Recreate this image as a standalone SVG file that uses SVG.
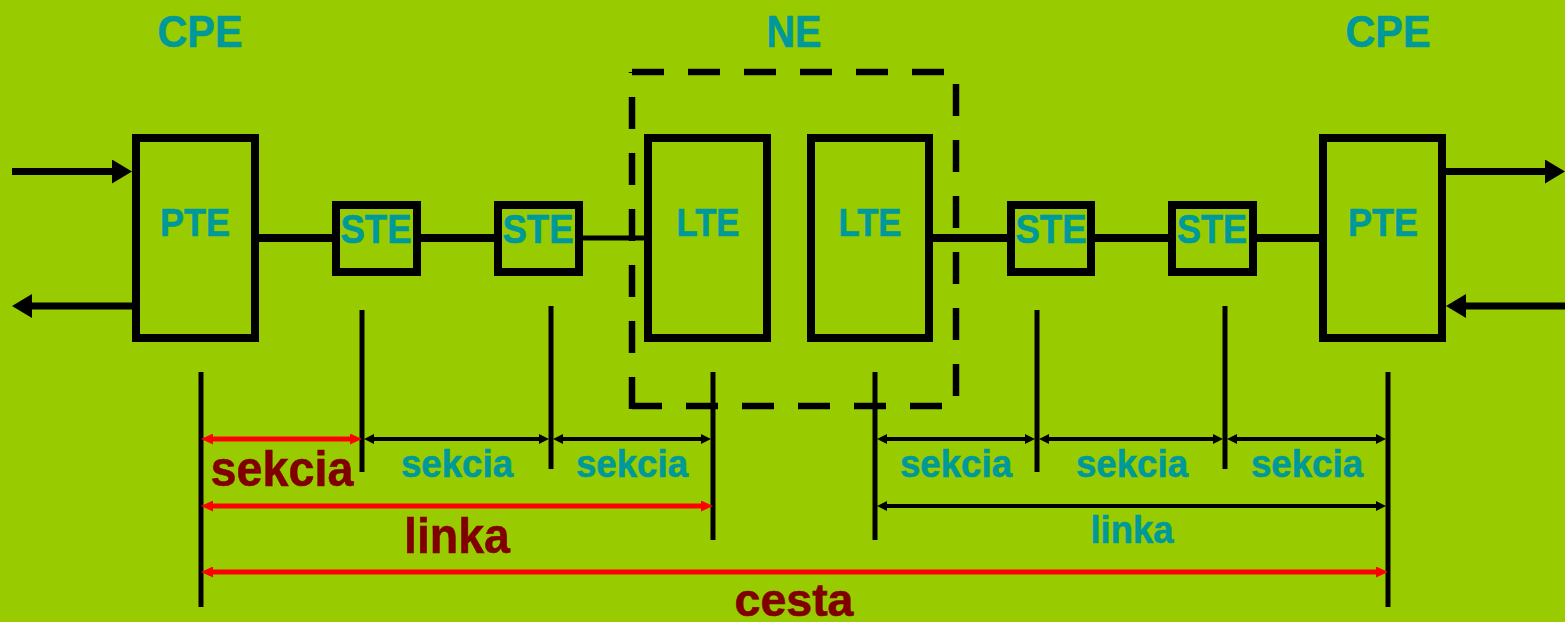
<svg xmlns="http://www.w3.org/2000/svg" width="1565" height="622" viewBox="0 0 1565 622">
<style>
.bg{fill:#99CC00}
.box{fill:none;stroke:#000;stroke-width:8}
.wire{fill:none;stroke:#000;stroke-width:8}
.wire-thin{fill:none;stroke:#000;stroke-width:5}
.io{fill:none;stroke:#000;stroke-width:7}
.tick{fill:none;stroke:#000;stroke-width:5}
.dim{fill:none;stroke:#000;stroke-width:4;marker-start:url(#ab);marker-end:url(#ab)}
.dimr{fill:none;stroke:#FF0000;stroke-width:5;marker-start:url(#ar);marker-end:url(#ar)}
.ne{fill:none;stroke:#000;stroke-width:6.5;stroke-dasharray:32 24}
text{font-family:"Liberation Sans",Arial,Helvetica,sans-serif;font-weight:bold;text-anchor:middle;stroke-width:0.6}
.t{fill:#009999;stroke:#009999}
.r{fill:#800000;stroke:#800000}
</style>
<defs>
<marker id="big" markerUnits="userSpaceOnUse" viewBox="0 0 20 24" markerWidth="20" markerHeight="24" refX="12" refY="12" orient="auto">
<path d="M0,0 L20,12 L0,24 z" fill="#000"/>
</marker>
<marker id="ab" markerUnits="userSpaceOnUse" viewBox="0 0 10 10" markerWidth="10" markerHeight="10" refX="6" refY="5" orient="auto-start-reverse">
<path d="M0,0 L10,5 L0,10 z" fill="#000"/>
</marker>
<marker id="ar" markerUnits="userSpaceOnUse" viewBox="0 0 12 11" markerWidth="12" markerHeight="11" refX="6" refY="5.5" orient="auto-start-reverse">
<path d="M0,0 L12,5.5 L0,11 z" fill="#FF0000"/>
</marker>
</defs>
<rect class="bg" x="0" y="0" width="1565" height="622"/>

<g id="titles">
<text class="t" x="200" y="47" font-size="44" textLength="85" lengthAdjust="spacingAndGlyphs">CPE</text>
<text class="t" x="794" y="47" font-size="44" textLength="55" lengthAdjust="spacingAndGlyphs">NE</text>
<text class="t" x="1388" y="47" font-size="44" textLength="85" lengthAdjust="spacingAndGlyphs">CPE</text>
</g>

<g id="ne-group">
<path class="ne" d="M632,72 H956 V406 H632"/>
<path class="ne" d="M632,409 V72"/>
</g>

<g id="connectors">
<path class="io" d="M12,171.5 H124" marker-end="url(#big)"/>
<path class="io" d="M132,306 H20" marker-end="url(#big)"/>
<path class="io" d="M1446,171.5 H1557" marker-end="url(#big)"/>
<path class="io" d="M1565,306 H1454" marker-end="url(#big)"/>
<path class="wire" d="M259,238 H332 M421,238 H494"/>
<path class="wire-thin" d="M583,238 H644"/>
<path class="wire" d="M933,238 H1007 M1095,238 H1168 M1257,238 H1319"/>
<path class="tick" d="M201,372 V607 M362,310 V472 M551,306 V469 M713,372 V540 M875,372 V540 M1037,310 V472 M1225,306 V469 M1388,372 V607"/>
<path class="dimr" d="M207,439 H356"/>
<path class="dim" d="M368,439 H545"/>
<path class="dim" d="M557,439 H707"/>
<path class="dim" d="M881,439 H1031"/>
<path class="dim" d="M1043,439 H1219"/>
<path class="dim" d="M1231,439 H1382"/>
<path class="dimr" d="M207,506 H707"/>
<path class="dim" d="M881,506 H1382"/>
<path class="dimr" d="M207,572 H1382"/>
</g>

<g id="pte-left">
<rect class="box" x="136" y="138" width="119" height="200"/>
<text class="t" x="195" y="236" font-size="39" textLength="70" lengthAdjust="spacingAndGlyphs">PTE</text>
</g>
<g id="ste-1">
<rect class="box" x="336" y="205" width="81" height="67"/>
<text class="t" x="376" y="243" font-size="40" textLength="71" lengthAdjust="spacingAndGlyphs">STE</text>
</g>
<g id="ste-2">
<rect class="box" x="498" y="205" width="81" height="67"/>
<text class="t" x="538" y="243" font-size="40" textLength="71" lengthAdjust="spacingAndGlyphs">STE</text>
</g>
<g id="lte-1">
<rect class="box" x="648" y="138" width="119" height="200"/>
<text class="t" x="708" y="236" font-size="38" textLength="63" lengthAdjust="spacingAndGlyphs">LTE</text>
</g>
<g id="lte-2">
<rect class="box" x="811" y="138" width="118" height="200"/>
<text class="t" x="870" y="236" font-size="38" textLength="63" lengthAdjust="spacingAndGlyphs">LTE</text>
</g>
<g id="ste-3">
<rect class="box" x="1011" y="205" width="80" height="67"/>
<text class="t" x="1051" y="243" font-size="40" textLength="71" lengthAdjust="spacingAndGlyphs">STE</text>
</g>
<g id="ste-4">
<rect class="box" x="1172" y="205" width="81" height="67"/>
<text class="t" x="1212" y="243" font-size="40" textLength="70" lengthAdjust="spacingAndGlyphs">STE</text>
</g>
<g id="pte-right">
<rect class="box" x="1323" y="138" width="119" height="200"/>
<text class="t" x="1383" y="236" font-size="39" textLength="70" lengthAdjust="spacingAndGlyphs">PTE</text>
</g>

<g id="labels">
<text class="r" x="282" y="486" font-size="50" textLength="143" lengthAdjust="spacingAndGlyphs">sekcia</text>
<text class="t" x="457" y="477" font-size="38" textLength="112" lengthAdjust="spacingAndGlyphs">sekcia</text>
<text class="t" x="632" y="477" font-size="38" textLength="112" lengthAdjust="spacingAndGlyphs">sekcia</text>
<text class="t" x="956" y="477" font-size="38" textLength="112" lengthAdjust="spacingAndGlyphs">sekcia</text>
<text class="t" x="1132" y="477" font-size="38" textLength="112" lengthAdjust="spacingAndGlyphs">sekcia</text>
<text class="t" x="1307" y="477" font-size="38" textLength="112" lengthAdjust="spacingAndGlyphs">sekcia</text>
<text class="r" x="457" y="553" font-size="50" textLength="106" lengthAdjust="spacingAndGlyphs">linka</text>
<text class="t" x="1132" y="543" font-size="39" textLength="83" lengthAdjust="spacingAndGlyphs">linka</text>
<text class="r" x="794" y="616" font-size="46" textLength="119" lengthAdjust="spacingAndGlyphs">cesta</text>
</g>
</svg>
